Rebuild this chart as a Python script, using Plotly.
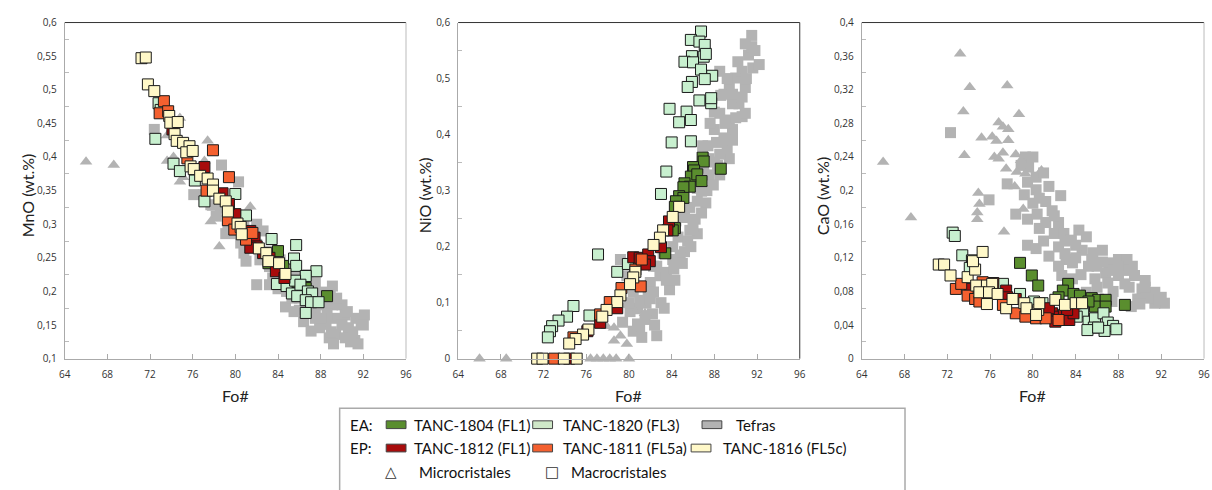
import plotly.graph_objects as go

# ---------------- data ----------------
FO_TICKS = [64, 68, 72, 76, 80, 84, 88, 92, 96]

MNO_TICKS = [0.1, 0.15, 0.2, 0.25, 0.3, 0.35, 0.4, 0.45, 0.5, 0.55, 0.6]
MNO_TICKTEXT = ["0,1", "0,15", "0,2", "0,25", "0,3", "0,35", "0,4", "0,45", "0,5", "0,55", "0,6"]
MNO_MINOR = [0.125, 0.175, 0.225, 0.275, 0.325, 0.375, 0.425, 0.475, 0.525, 0.575]

NIO_TICKS = [0, 0.1, 0.2, 0.3, 0.4, 0.5, 0.6]
NIO_TICKTEXT = ["0", "0,1", "0,2", "0,3", "0,4", "0,5", "0,6"]
NIO_MINOR = [0.05, 0.15, 0.25, 0.35, 0.45, 0.55]

CAO_TICKS = [0, 0.04, 0.08, 0.12, 0.16, 0.2, 0.24, 0.28, 0.32, 0.36, 0.4]
CAO_TICKTEXT = ["0", "0,04", "0,08", "0,12", "0,16", "0,2", "0,24", "0,28", "0,32", "0,36", "0,4"]
CAO_MINOR = [0.02, 0.06, 0.1, 0.14, 0.18, 0.22, 0.26, 0.3, 0.34, 0.38]

# --- MnO panel (Fo#, MnO) ---
MNO_TEF_TRI = [(66.0, 0.393), (68.6, 0.388), (73.6, 0.432), (74.8, 0.458), (77.4, 0.424),
               (73.6, 0.394), (74.2, 0.400), (74.8, 0.363), (75.1, 0.370), (77.1, 0.394),
               (77.7, 0.304), (77.9, 0.324), (81.4, 0.326), (78.5, 0.267), (83.4, 0.255),
               (84.2, 0.240)]
MNO_TEF_SQ = [(72.4, 0.441), (78.7, 0.388), (80.3, 0.363), (76.1, 0.344), (77.0, 0.344),
              (77.7, 0.329), (78.6, 0.324), (79.7, 0.310), (79.1, 0.286), (80.8, 0.305),
              (82.0, 0.300), (82.6, 0.290), (80.1, 0.286), (81.4, 0.266), (80.8, 0.257),
              (82.3, 0.247), (83.2, 0.237), (84.2, 0.247), (82.0, 0.210), (83.2, 0.210),
              (84.7, 0.223), (85.0, 0.238), (85.7, 0.223), (86.3, 0.208), (87.5, 0.213),
              (88.2, 0.199), (89.1, 0.208), (88.9, 0.194), (84.7, 0.177), (86.4, 0.155),
              (87.5, 0.175), (88.2, 0.180), (89.1, 0.180), (90.0, 0.180), (90.3, 0.165),
              (89.4, 0.160), (88.5, 0.151), (87.9, 0.146), (91.3, 0.160), (92.1, 0.165),
              (91.8, 0.151), (90.6, 0.146), (89.4, 0.136), (88.8, 0.131), (89.2, 0.122),
              (90.3, 0.131), (91.2, 0.127), (91.5, 0.122), (87.1, 0.141), (87.5, 0.160),
              (85.3, 0.190), (84.0, 0.204), (85.6, 0.204), (87.1, 0.190), (86.8, 0.225),
              (83.8, 0.222), (81.2, 0.280), (79.3, 0.296), (86.0, 0.172), (88.6, 0.167),
              (86.0, 0.190), (87.0, 0.200), (88.0, 0.190), (89.5, 0.190), (90.5, 0.170),
              (91.0, 0.140), (92.0, 0.150), (90.0, 0.150), (88.0, 0.160), (86.8, 0.180),
              (85.5, 0.170), (89.0, 0.140), (90.8, 0.125), (83.0, 0.260), (82.0, 0.270),
              (81.0, 0.245), (83.5, 0.220), (84.8, 0.200), (80.5, 0.272), (78.2, 0.312)]
MNO_1804 = [(84.0, 0.260), (84.5, 0.238), (86.6, 0.205), (88.6, 0.193), (83.1, 0.242),
            (85.2, 0.214)]
MNO_1820 = [(72.8, 0.480), (72.5, 0.427), (74.2, 0.390), (74.8, 0.379), (76.2, 0.365),
            (77.1, 0.334), (80.0, 0.345), (81.0, 0.313), (83.4, 0.278), (85.7, 0.269),
            (85.5, 0.249), (85.7, 0.238), (87.6, 0.230), (86.6, 0.223), (83.9, 0.211),
            (84.8, 0.208), (85.3, 0.197), (85.6, 0.216), (86.1, 0.210), (85.8, 0.193),
            (86.8, 0.200), (87.2, 0.197), (86.6, 0.187), (87.1, 0.184), (87.8, 0.184),
            (86.6, 0.168), (73.0, 0.470)]
MNO_1812 = [(74.1, 0.441), (77.1, 0.385), (78.8, 0.346), (80.0, 0.315), (81.4, 0.290),
            (81.8, 0.280), (82.0, 0.267), (81.4, 0.265), (82.6, 0.257), (83.2, 0.250),
            (83.8, 0.230), (84.6, 0.220), (79.4, 0.330)]
MNO_1811 = [(73.3, 0.483), (72.9, 0.465), (73.7, 0.468), (77.9, 0.410), (79.4, 0.370),
            (75.5, 0.398), (77.3, 0.350), (79.3, 0.306), (79.9, 0.292), (81.0, 0.277),
            (81.6, 0.287)]
MNO_1816 = [(71.2, 0.547), (71.6, 0.548), (71.8, 0.508), (72.4, 0.498), (73.8, 0.461),
            (73.9, 0.451), (74.6, 0.452), (74.3, 0.434), (74.5, 0.424), (75.1, 0.421),
            (75.7, 0.416), (75.4, 0.407), (76.0, 0.409), (75.8, 0.386), (76.1, 0.382),
            (76.7, 0.372), (77.4, 0.368), (77.9, 0.359), (77.9, 0.350), (78.5, 0.338),
            (79.1, 0.334), (79.3, 0.319), (80.2, 0.301), (80.5, 0.296), (80.6, 0.285),
            (82.2, 0.264), (82.9, 0.257), (83.1, 0.245), (84.1, 0.242), (84.7, 0.226)]

# --- NiO panel (Fo#, NiO) ---
NIO_TEF_TRI = [(66.0, 0.0), (68.5, 0.0), (76.4, 0.0), (77.0, 0.0), (77.6, 0.0), (78.2, 0.0),
               (78.8, 0.0), (80.0, 0.0), (78.6, 0.055), (79.2, 0.041), (78.6, 0.032),
               (79.8, 0.026), (80.6, 0.084), (81.5, 0.081), (77.9, 0.058)]
NIO_TEF_SQ = [(82.6, 0.041), (80.4, 0.049), (81.0, 0.055), (80.1, 0.084), (80.8, 0.090),
              (81.6, 0.099), (83.8, 0.123), (80.4, 0.119), (82.3, 0.119), (82.9, 0.148),
              (82.3, 0.165), (83.5, 0.154), (84.1, 0.177), (85.2, 0.191), (83.2, 0.188),
              (84.6, 0.217), (86.4, 0.223), (85.7, 0.229), (86.2, 0.249), (85.2, 0.252),
              (87.2, 0.278), (86.4, 0.281), (86.8, 0.299), (87.5, 0.328), (88.0, 0.351),
              (89.4, 0.357), (88.5, 0.365), (87.4, 0.380), (89.2, 0.374), (88.0, 0.409),
              (88.9, 0.394), (89.7, 0.409), (90.6, 0.432), (90.3, 0.455), (89.7, 0.455),
              (88.9, 0.472), (89.4, 0.490), (90.0, 0.501), (90.6, 0.513), (91.6, 0.519),
              (92.2, 0.525), (91.2, 0.542), (91.5, 0.557), (91.5, 0.577), (90.9, 0.562),
              (89.7, 0.472), (88.5, 0.513), (90.9, 0.484), (90.6, 0.467), (88.5, 0.438),
              (89.4, 0.426), (90.9, 0.438), (88.2, 0.386), (87.5, 0.357), (88.5, 0.328),
              (86.4, 0.304), (85.7, 0.270), (84.4, 0.246), (84.1, 0.200), (82.6, 0.165),
              (82.0, 0.136), (79.8, 0.148), (79.2, 0.177), (81.8, 0.119), (81.0, 0.104),
              (82.0, 0.107), (79.4, 0.065), (80.8, 0.062), (87.0, 0.340), (89.0, 0.420),
              (81.5, 0.070), (82.2, 0.080), (83.0, 0.100), (83.5, 0.140), (84.2, 0.160),
              (84.8, 0.185), (85.5, 0.210), (86.0, 0.235), (86.8, 0.260), (87.3, 0.300),
              (87.9, 0.310), (88.3, 0.345), (89.0, 0.390), (89.7, 0.390), (90.0, 0.430),
              (91.0, 0.500), (91.8, 0.550), (89.2, 0.500), (90.2, 0.530), (88.6, 0.470),
              (88.0, 0.440), (87.6, 0.420), (86.9, 0.380), (85.0, 0.170), (84.3, 0.140),
              (83.3, 0.090), (82.4, 0.060), (81.2, 0.038), (80.0, 0.100), (85.8, 0.200)]
NIO_1804 = [(86.9, 0.359), (87.0, 0.352), (88.6, 0.339), (86.0, 0.342), (86.1, 0.336),
            (85.8, 0.325), (86.4, 0.329), (86.8, 0.317), (85.2, 0.313), (85.7, 0.307),
            (85.1, 0.306), (84.7, 0.290), (85.1, 0.287), (84.4, 0.281), (84.3, 0.271),
            (84.3, 0.233), (84.1, 0.229), (83.4, 0.188)]
NIO_1820 = [(86.75, 0.584), (85.8, 0.569), (86.6, 0.566), (87.1, 0.560), (85.9, 0.540),
            (87.0, 0.539), (85.2, 0.530), (86.0, 0.529), (86.75, 0.516), (87.8, 0.505),
            (87.1, 0.499), (85.9, 0.494), (85.5, 0.485), (86.6, 0.461), (87.7, 0.456),
            (83.8, 0.446), (85.4, 0.441), (85.8, 0.426), (84.7, 0.422), (84.0, 0.386),
            (85.8, 0.388), (83.5, 0.334), (83.0, 0.294), (77.1, 0.186), (78.9, 0.155),
            (79.9, 0.169), (74.8, 0.094), (74.2, 0.075), (73.4, 0.068), (76.3, 0.077),
            (72.8, 0.058), (72.6, 0.049), (72.4, 0.038), (87.7, 0.465), (87.2, 0.544)]
NIO_1812 = [(74.4, 0.0), (80.4, 0.181), (81.0, 0.180), (81.8, 0.186), (81.95, 0.174),
            (81.5, 0.168), (83.0, 0.199), (83.75, 0.245), (83.6, 0.229), (78.9, 0.090),
            (77.3, 0.064), (76.1, 0.049)]
NIO_1811 = [(73.0, 0.0), (79.3, 0.126), (81.1, 0.129), (80.6, 0.159), (78.2, 0.101),
            (77.3, 0.079), (74.8, 0.038), (81.2, 0.177)]
NIO_1816 = [(71.4, 0.0), (71.9, 0.0), (73.9, 0.0), (75.1, 0.0), (84.7, 0.271), (84.1, 0.253),
            (83.2, 0.229), (82.9, 0.216), (82.3, 0.203), (80.6, 0.155), (80.4, 0.145),
            (80.1, 0.133), (79.2, 0.113), (78.9, 0.101), (77.9, 0.087), (77.5, 0.075),
            (76.2, 0.052), (75.7, 0.043), (75.0, 0.035), (74.4, 0.027)]

# --- CaO panel (Fo#, CaO) ---
CAO_TEF_TRI = [(66.0, 0.234), (68.6, 0.168), (73.2, 0.363), (74.1, 0.323), (77.6, 0.325),
               (73.5, 0.294), (78.7, 0.291), (76.8, 0.281), (77.2, 0.276), (77.7, 0.273),
               (75.2, 0.263), (76.2, 0.264), (76.6, 0.259), (77.7, 0.260), (73.6, 0.242),
               (77.2, 0.245), (76.4, 0.240), (76.8, 0.238), (78.4, 0.243), (78.9, 0.236),
               (77.5, 0.226), (78.5, 0.222), (79.3, 0.220), (80.8, 0.224), (78.3, 0.205),
               (74.9, 0.197), (75.0, 0.184), (74.8, 0.174), (74.8, 0.166), (79.1, 0.178),
               (77.3, 0.151)]
CAO_TEF_SQ = [(72.3, 0.269), (77.6, 0.208), (75.9, 0.189), (82.6, 0.194), (79.3, 0.240),
              (78.9, 0.230), (79.6, 0.228), (80.3, 0.216), (81.0, 0.221), (79.2, 0.195),
              (80.3, 0.201), (80.6, 0.191), (81.2, 0.187), (81.8, 0.176), (78.4, 0.172),
              (79.5, 0.166), (80.4, 0.172), (81.2, 0.162), (82.4, 0.162), (80.6, 0.155),
              (82.0, 0.149), (82.9, 0.149), (84.3, 0.153), (83.6, 0.141), (82.4, 0.133),
              (79.5, 0.135), (80.3, 0.131), (81.5, 0.122), (83.1, 0.118), (84.6, 0.129),
              (85.6, 0.126), (86.5, 0.129), (82.4, 0.110), (83.7, 0.114), (85.2, 0.110),
              (87.1, 0.114), (88.0, 0.118), (88.8, 0.118), (89.3, 0.110), (86.8, 0.102),
              (85.8, 0.095), (88.0, 0.099), (89.5, 0.099), (90.5, 0.093), (90.2, 0.083),
              (88.6, 0.089), (91.4, 0.079), (92.0, 0.073), (92.3, 0.066), (91.4, 0.066),
              (89.8, 0.071), (88.6, 0.064), (89.2, 0.062), (87.4, 0.068), (82.7, 0.099),
              (83.7, 0.095), (85.0, 0.079), (84.0, 0.135), (85.0, 0.145), (86.0, 0.110),
              (87.0, 0.090), (90.6, 0.075), (83.0, 0.125), (84.0, 0.120), (85.5, 0.118),
              (86.5, 0.115), (87.5, 0.105), (88.5, 0.105), (89.0, 0.085), (90.5, 0.085),
              (91.0, 0.072), (86.0, 0.085), (84.5, 0.100), (83.0, 0.140), (81.0, 0.140),
              (82.0, 0.170), (80.0, 0.185), (81.5, 0.205), (80.0, 0.240), (79.5, 0.210),
              (87.5, 0.080), (90.0, 0.065), (88.0, 0.110), (91.8, 0.070)]
CAO_1804 = [(78.8, 0.114), (79.9, 0.099), (80.5, 0.087), (83.3, 0.089), (82.8, 0.081),
            (83.8, 0.077), (84.4, 0.075), (85.5, 0.072), (86.1, 0.070), (86.8, 0.070),
            (85.8, 0.062), (86.8, 0.062), (88.6, 0.064), (85.2, 0.068), (82.4, 0.073)]
CAO_1820 = [(72.5, 0.150), (72.7, 0.146), (73.4, 0.123), (74.3, 0.117), (74.1, 0.108),
            (77.2, 0.089), (78.8, 0.077), (80.1, 0.068), (80.9, 0.066), (84.7, 0.056),
            (85.2, 0.044), (85.8, 0.048), (85.7, 0.037), (85.1, 0.034), (86.6, 0.054),
            (87.0, 0.043), (87.5, 0.039), (87.8, 0.035), (86.7, 0.033), (86.1, 0.037),
            (84.1, 0.050), (76.0, 0.085)]
CAO_1812 = [(74.1, 0.083), (76.3, 0.090), (77.5, 0.081), (77.6, 0.073), (78.4, 0.071),
            (81.8, 0.054), (82.3, 0.050), (82.1, 0.044), (82.9, 0.052), (83.4, 0.046),
            (83.8, 0.054), (83.2, 0.058), (81.5, 0.060)]
CAO_1811 = [(72.8, 0.083), (73.3, 0.089), (73.9, 0.075), (74.6, 0.071), (75.0, 0.068),
            (77.2, 0.064), (78.4, 0.054), (79.3, 0.050), (80.3, 0.048), (81.2, 0.048),
            (82.4, 0.046), (75.3, 0.091)]
CAO_1816 = [(71.2, 0.112), (71.7, 0.112), (72.3, 0.099), (73.9, 0.097), (74.6, 0.106),
            (74.4, 0.116), (75.3, 0.127), (74.7, 0.087), (75.7, 0.087), (76.2, 0.089),
            (75.0, 0.079), (75.9, 0.079), (76.7, 0.077), (75.7, 0.065), (77.5, 0.060),
            (78.1, 0.071), (79.2, 0.066), (79.4, 0.060), (80.5, 0.058), (80.6, 0.066),
            (82.1, 0.070), (83.0, 0.064), (84.0, 0.066), (84.6, 0.066), (80.3, 0.052)]

# ---------------- styling ----------------
W, H = 1212, 490
FONT = "Open Sans"
LFONT = "Lato"
C_1804 = "#5a8e2e"
C_1820 = "#c8f0cf"
C_TEF = "#b3b3b3"
C_1812 = "#a80c0c"
C_1811 = "#f4602f"
C_1816 = "#fff8c8"
EDGE = "#1a1a1a"


def px(x):
    return x / W


def py(y):
    return 1 - y / H


panels = [
    dict(ticks=MNO_TICKS, text=MNO_TICKTEXT, minor=MNO_MINOR, yr=[0.1, 0.6],
         title="MnO (wt.%)", xl=59.3, xr=404, tx=22, rcol="#bbbbbb",
         data=[MNO_TEF_SQ, MNO_TEF_TRI, MNO_1804, MNO_1820, MNO_1812, MNO_1811, MNO_1816]),
    dict(ticks=NIO_TICKS, text=NIO_TICKTEXT, minor=NIO_MINOR, yr=[0, 0.6],
         title="NiO (wt.%)", xl=456.7, xr=801.7, tx=423, rcol="#333333",
         data=[NIO_TEF_SQ, NIO_TEF_TRI, NIO_1804, NIO_1820, NIO_1812, NIO_1811, NIO_1816]),
    dict(ticks=CAO_TICKS, text=CAO_TICKTEXT, minor=CAO_MINOR, yr=[0, 0.4],
         title="CaO (wt.%)", xl=864.3, xr=1210, tx=825, rcol="#bbbbbb",
         data=[CAO_TEF_SQ, CAO_TEF_TRI, CAO_1804, CAO_1820, CAO_1812, CAO_1811, CAO_1816]),
]

series_style = [
    dict(symbol="square", color=C_TEF, line=0, size=11),
    dict(symbol="triangle-up", color=C_TEF, line=0, size=11),
    dict(symbol="square", color=C_1804, line=1, size=11),
    dict(symbol="square", color=C_1820, line=1, size=11),
    dict(symbol="square", color=C_1812, line=1, size=11),
    dict(symbol="square", color=C_1811, line=1, size=11),
    dict(symbol="square", color=C_1816, line=1, size=11),
]

fig = go.Figure()
shapes = []
annotations = []
Y_TOP, Y_BOT = 16, 362

for i, p in enumerate(panels):
    n = "" if i == 0 else str(i + 1)
    for pts, st in zip(p["data"], series_style):
        fig.add_trace(go.Scatter(
            x=[a for a, b in pts], y=[b for a, b in pts],
            mode="markers", xaxis="x" + n, yaxis="y" + n, cliponaxis=False,
            marker=dict(symbol=st["symbol"], size=st["size"], color=st["color"],
                        line=dict(width=st["line"], color=EDGE)),
            showlegend=False, hoverinfo="x+y"))
    fig.layout["xaxis" + n] = dict(
        domain=[px(p["xl"]), px(p["xr"])], anchor="y" + n, range=[64, 96],
        tickmode="array", tickvals=FO_TICKS, ticks="inside", ticklen=5,
        tickcolor="#aaaaaa", showline=True, linecolor="#aaaaaa", linewidth=1,
        showgrid=False, zeroline=False, ticklabelstandoff=6,
        tickfont=dict(family=FONT, size=10, color="#333333"))
    fig.layout["yaxis" + n] = dict(
        domain=[py(Y_BOT), py(Y_TOP)], anchor="x" + n, range=p["yr"],
        tickmode="array", tickvals=p["ticks"], ticktext=p["text"], ticks="",
        minor=dict(tickmode="array", tickvals=p["minor"], ticks="inside", ticklen=4,
                   tickcolor="#bbbbbb", showgrid=False),
        showline=True, linecolor="#aaaaaa", linewidth=1, showgrid=False,
        zeroline=False, ticklabelstandoff=5,
        tickfont=dict(family=FONT, size=10, color="#333333"))
    # frame top / right
    shapes.append(dict(type="line", xref="x" + n + " domain", yref="y" + n + " domain",
                       x0=0, x1=1, y0=1, y1=1, line=dict(color="#333333", width=1)))
    shapes.append(dict(type="line", xref="x" + n + " domain", yref="y" + n + " domain",
                       x0=1, x1=1, y0=0, y1=1, line=dict(color=p["rcol"], width=1)))
    annotations.append(dict(x=px(p["tx"]), y=py((Y_TOP + Y_BOT) / 2 + 5), xref="paper",
                            yref="paper", text=p["title"], textangle=-90, showarrow=False,
                            font=dict(family=LFONT, size=16, color="#222222"),
                            xanchor="center", yanchor="middle"))
    annotations.append(dict(x=px((p["xl"] + p["xr"]) / 2), y=py(400), xref="paper",
                            yref="paper", text="Fo#", showarrow=False,
                            font=dict(family=LFONT, size=16, color="#222222"),
                            xanchor="center", yanchor="middle"))

# ---------------- legend (manual) ----------------
shapes.append(dict(type="rect", xref="paper", yref="paper", x0=px(337), x1=px(908),
                   y0=py(413), y1=-0.05, line=dict(color="#aaaaaa", width=1.5),
                   fillcolor="rgba(0,0,0,0)"))

LEG_SIZE = 15
LEG_ROWS = [
    ("EA:", 430, [("TANC-1804 (FL1)", C_1804, 384, 410), ("TANC-1820 (FL3)", "#cfe8c8", 532, 561),
                  ("Tefras", C_TEF, 703, 735)]),
    ("EP:", 454, [("TANC-1812 (FL1)", C_1812, 384, 410), ("TANC-1811 (FL5a)", C_1811, 532, 561),
                  ("TANC-1816 (FL5c)", C_1816, 692, 722)]),
]
for head, yy, items in LEG_ROWS:
    annotations.append(dict(x=px(345), y=py(yy), xref="paper", yref="paper", text=head,
                            showarrow=False, xanchor="left", yanchor="middle",
                            font=dict(family=LFONT, size=LEG_SIZE, color="#111111")))
    for label, col, sx, tx in items:
        shapes.append(dict(type="rect", xref="paper", yref="paper", x0=px(sx), x1=px(sx + 20),
                           y0=py(yy + 4), y1=py(yy - 4), fillcolor=col,
                           line=dict(color="#444444", width=1)))
        annotations.append(dict(x=px(tx), y=py(yy), xref="paper", yref="paper", text=label,
                                showarrow=False, xanchor="left", yanchor="middle",
                                font=dict(family=LFONT, size=LEG_SIZE, color="#111111")))

for sym, sx, label, tx in [("△", 389, "Microcristales", 415), ("□", 551, "Macrocristales", 569)]:
    annotations.append(dict(x=px(sx), y=py(479), xref="paper", yref="paper", text=sym,
                            showarrow=False, xanchor="center", yanchor="middle",
                            font=dict(family="DejaVu Sans", size=15, color="#333333")))
    annotations.append(dict(x=px(tx), y=py(479), xref="paper", yref="paper", text=label,
                            showarrow=False, xanchor="left", yanchor="middle",
                            font=dict(family=LFONT, size=LEG_SIZE, color="#111111")))

fig.update_layout(width=W, height=H, margin=dict(l=0, r=0, t=0, b=0),
                  paper_bgcolor="white", plot_bgcolor="white", separators=", ",
                  shapes=shapes, annotations=annotations, showlegend=False)

fig.write_html("out.html")
